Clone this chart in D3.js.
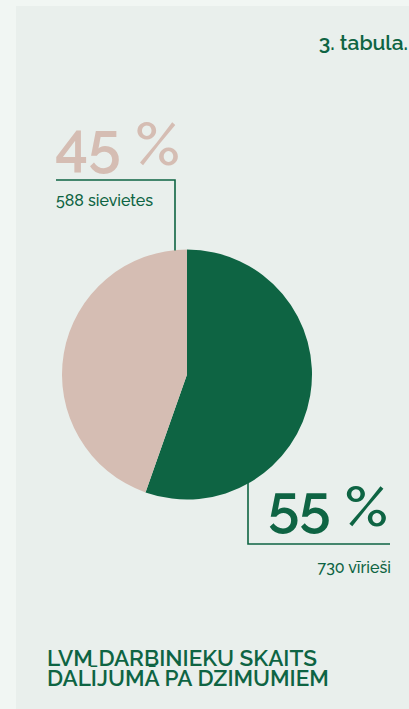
<!DOCTYPE html>
<html><head><meta charset="utf-8">
<script src="https://cdn.jsdelivr.net/npm/d3@7/dist/d3.min.js"></script>
<style>
html,body{margin:0;padding:0;background:#f1f6f3;}
svg{display:block;}
text{font-family:Raleway,Lato,"Open Sans",sans-serif;}
</style></head><body>
<svg id="c" width="409" height="709"></svg>
<script>
const categories = ["sievietes", "vīrieši"];
const counts = [588, 730];
const percentLabels = ["45 %", "55 %"];
const countLabels = ["588 sievietes", "730 vīrieši"];
const colors = ["#d5bdb3", "#0e6443"];
const title = ["LVM DARBINIEKU SKAITS", "DALĪJUMĀ PA DZIMUMIEM"];
const tableLabel = "3. tabula.";

const green = "#0e6443";
const svg = d3.select("#c");
svg.append("rect").attr("x",16).attr("y",6).attr("width",393).attr("height",703).attr("fill","#e9efec");

svg.append("text").attr("x",408).attr("y",50).attr("text-anchor","end")
  .attr("font-size",21).attr("font-weight",600).attr("fill",green).text(tableLabel);

const cx = 187, cy = 374.5, r = 125;
const data = categories.map((c,i)=>({cat:c, value:counts[i], i}));
const pie = d3.pie().value(d=>d.value).sort(null);
const arcs = pie([data[1], data[0]]);
const arc = d3.arc().innerRadius(0).outerRadius(r);
svg.append("g").attr("transform",`translate(${cx},${cy})`)
  .selectAll("path").data(arcs).join("path")
  .attr("d",arc).attr("fill",d=>colors[d.data.i]);

svg.append("path").attr("d",`M56,180 H175 V${cy-r+1}`)
  .attr("fill","none").attr("stroke",green).attr("stroke-width",1.6);
svg.append("path").attr("d",`M248,482 V544 H390`)
  .attr("fill","none").attr("stroke",green).attr("stroke-width",1.6);

svg.append("text").attr("x",55).attr("y",165).attr("font-size",59).attr("font-weight",600)
  .attr("fill",colors[0]).text(percentLabels[0]);
svg.append("text").attr("x",56).attr("y",206).attr("font-size",16).attr("font-weight",500).attr("fill",green).text(countLabels[0]);

svg.append("text").attr("x",388).attr("y",526).attr("text-anchor","end").attr("font-size",57).attr("font-weight",600)
  .attr("fill",green).text(percentLabels[1]);
svg.append("text").attr("x",391).attr("y",573).attr("text-anchor","end").attr("font-size",16).attr("font-weight",500).attr("fill",green).text(countLabels[1]);

svg.selectAll("text.title").data(title).join("text").attr("class","title")
  .attr("x",47).attr("y",(d,i)=>666+i*19.5).attr("font-size",22.5).attr("font-weight",600)
  .attr("fill",green).text(d=>d);
</script>
</body></html>
